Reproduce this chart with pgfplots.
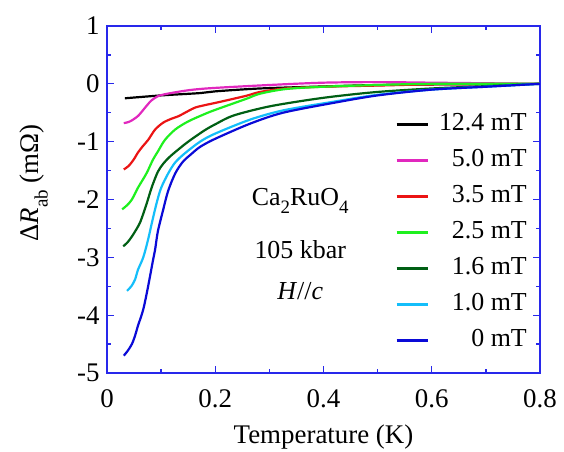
\documentclass[border=0pt]{standalone}
\usepackage{fontspec}
\setmainfont{Liberation Serif}
\usepackage{pgfplots}
\pgfplotsset{compat=1.18}
\definecolor{axblue}{RGB}{40,40,235}
\definecolor{cmag}{RGB}{225,40,190}
\definecolor{cred}{RGB}{235,20,20}
\definecolor{cgreen}{RGB}{30,240,30}
\definecolor{cdkgreen}{RGB}{0,95,20}
\definecolor{ccyan}{RGB}{20,190,250}
\definecolor{cblue}{RGB}{10,10,215}
\newcommand{\sub}[1]{\raisebox{-0.32em}{\fontsize{19}{19}\selectfont #1}}
\begin{document}
\begin{tikzpicture}
\begin{axis}[at={(0bp,0bp)}, anchor=south west, scale only axis,
  width=433bp, height=347bp,
  xmin=0, xmax=0.8, ymin=-5, ymax=1,
  xtick={0,0.2,0.4,0.6,0.8}, minor x tick num=1,
  ytick={-5,-4,-3,-2,-1,0,1}, minor y tick num=1,
  tick align=inside, major tick length=7bp, minor tick length=4bp,
  axis line style={axblue, line width=1.3bp},
  every tick/.style={axblue, line width=1.3bp},
  /pgf/number format/assume math mode=true,
  /pgf/number format/fixed,
  ticklabel style={font=\fontsize{27}{30}\selectfont},
  xticklabel style={yshift=-13bp},
  yticklabel style={xshift=-4bp},
  xlabel={Temperature (K)},
  ylabel={Δ\textit{R}\sub{ab} (mΩ)},
  every axis x label/.style={at={(axis description cs:0.5,-0.184)}, anchor=center, font=\fontsize{27}{30}\selectfont},
  every axis y label/.style={at={(axis description cs:-0.1686,0.548)}, anchor=center, rotate=90, font=\fontsize{27}{30}\selectfont},
  legend style={at={(axis description cs:0.970,0.75)}, anchor=north east, draw=none, fill=none,
    inner sep=0pt, font=\fontsize{26}{28}\selectfont,
    nodes={inner sep=0pt, text height=18bp, text depth=5bp},
    row sep=13bp,
    /tikz/every odd column/.append style={column sep=10bp}},
  legend cell align=right,
  legend image code/.code={\draw[#1, line width=3bp] (0bp,0bp) -- (31bp,0bp);},
  every axis plot/.append style={line width=2.2bp, smooth, tension=0.5},
]
\addplot[black] coordinates {(0.033,-0.25)(0.1,-0.2)(0.172,-0.16)(0.2,-0.13)(0.283,-0.08)(0.4,-0.045)(0.5,-0.02)(0.6,-0.01)(0.8,0)};
\addlegendentry{12.4 mT}
\addplot[cmag] coordinates {(0.031,-0.68)(0.04,-0.66)(0.048,-0.62)(0.058,-0.55)(0.067,-0.45)(0.075,-0.36)(0.083,-0.28)(0.098,-0.2)(0.13,-0.14)(0.16,-0.1)(0.2,-0.07)(0.3,-0.02)(0.4,0.02)(0.5,0.03)(0.6,0.02)(0.7,0.01)(0.8,0)};
\addlegendentry{5.0 mT}
\addplot[cred] coordinates {(0.031,-1.48)(0.04,-1.42)(0.05,-1.3)(0.057,-1.19)(0.066,-1.08)(0.076,-0.97)(0.089,-0.79)(0.104,-0.67)(0.12,-0.6)(0.132,-0.56)(0.15,-0.47)(0.163,-0.41)(0.18,-0.37)(0.2,-0.33)(0.233,-0.26)(0.26,-0.2)(0.283,-0.14)(0.33,-0.08)(0.4,-0.05)(0.5,-0.03)(0.6,-0.01)(0.8,0)};
\addlegendentry{3.5 mT}
\addplot[cgreen] coordinates {(0.028,-2.17)(0.037,-2.1)(0.046,-2.0)(0.057,-1.8)(0.066,-1.66)(0.074,-1.53)(0.085,-1.31)(0.094,-1.17)(0.107,-0.97)(0.126,-0.79)(0.15,-0.65)(0.181,-0.52)(0.2,-0.45)(0.233,-0.34)(0.26,-0.25)(0.283,-0.17)(0.33,-0.09)(0.4,-0.05)(0.5,-0.02)(0.6,0.0)(0.8,0)};
\addlegendentry{2.5 mT}
\addplot[cdkgreen] coordinates {(0.03,-2.81)(0.038,-2.74)(0.046,-2.64)(0.054,-2.52)(0.061,-2.4)(0.068,-2.22)(0.074,-2.05)(0.083,-1.78)(0.094,-1.52)(0.104,-1.38)(0.115,-1.27)(0.126,-1.18)(0.15,-1.0)(0.181,-0.8)(0.2,-0.7)(0.233,-0.55)(0.295,-0.4)(0.357,-0.3)(0.418,-0.22)(0.5,-0.14)(0.6,-0.08)(0.7,-0.04)(0.8,0)};
\addlegendentry{1.6 mT}
\addplot[ccyan] coordinates {(0.037,-3.58)(0.045,-3.5)(0.052,-3.38)(0.057,-3.22)(0.067,-3.0)(0.076,-2.69)(0.083,-2.4)(0.092,-2.05)(0.1,-1.8)(0.113,-1.55)(0.126,-1.36)(0.144,-1.2)(0.172,-1.0)(0.2,-0.86)(0.264,-0.62)(0.325,-0.46)(0.418,-0.31)(0.5,-0.19)(0.6,-0.1)(0.7,-0.05)(0.8,0)};
\addlegendentry{1.0 mT}
\addplot[cblue] coordinates {(0.031,-4.7)(0.038,-4.62)(0.046,-4.5)(0.052,-4.35)(0.057,-4.19)(0.067,-3.9)(0.076,-3.5)(0.085,-3.05)(0.089,-2.86)(0.094,-2.55)(0.104,-2.17)(0.113,-1.85)(0.126,-1.55)(0.14,-1.35)(0.155,-1.22)(0.172,-1.09)(0.2,-0.95)(0.264,-0.69)(0.325,-0.5)(0.418,-0.33)(0.5,-0.2)(0.6,-0.1)(0.7,-0.05)(0.8,0)};
\addlegendentry{0 mT}
\node[font=\fontsize{26}{28}\selectfont] at (axis cs:0.357,-2.02) {Ca\sub{2}RuO\sub{4}};
\node[font=\fontsize{26}{28}\selectfont] at (axis cs:0.357,-2.86) {105 kbar};
\node[font=\fontsize{26}{28}\selectfont] at (axis cs:0.357,-3.59) {\textit{H}//\textit{c}};
\end{axis}
\pgfresetboundingbox
\path (-107bp,-79bp) rectangle (457bp,373bp);
\end{tikzpicture}
\end{document}
